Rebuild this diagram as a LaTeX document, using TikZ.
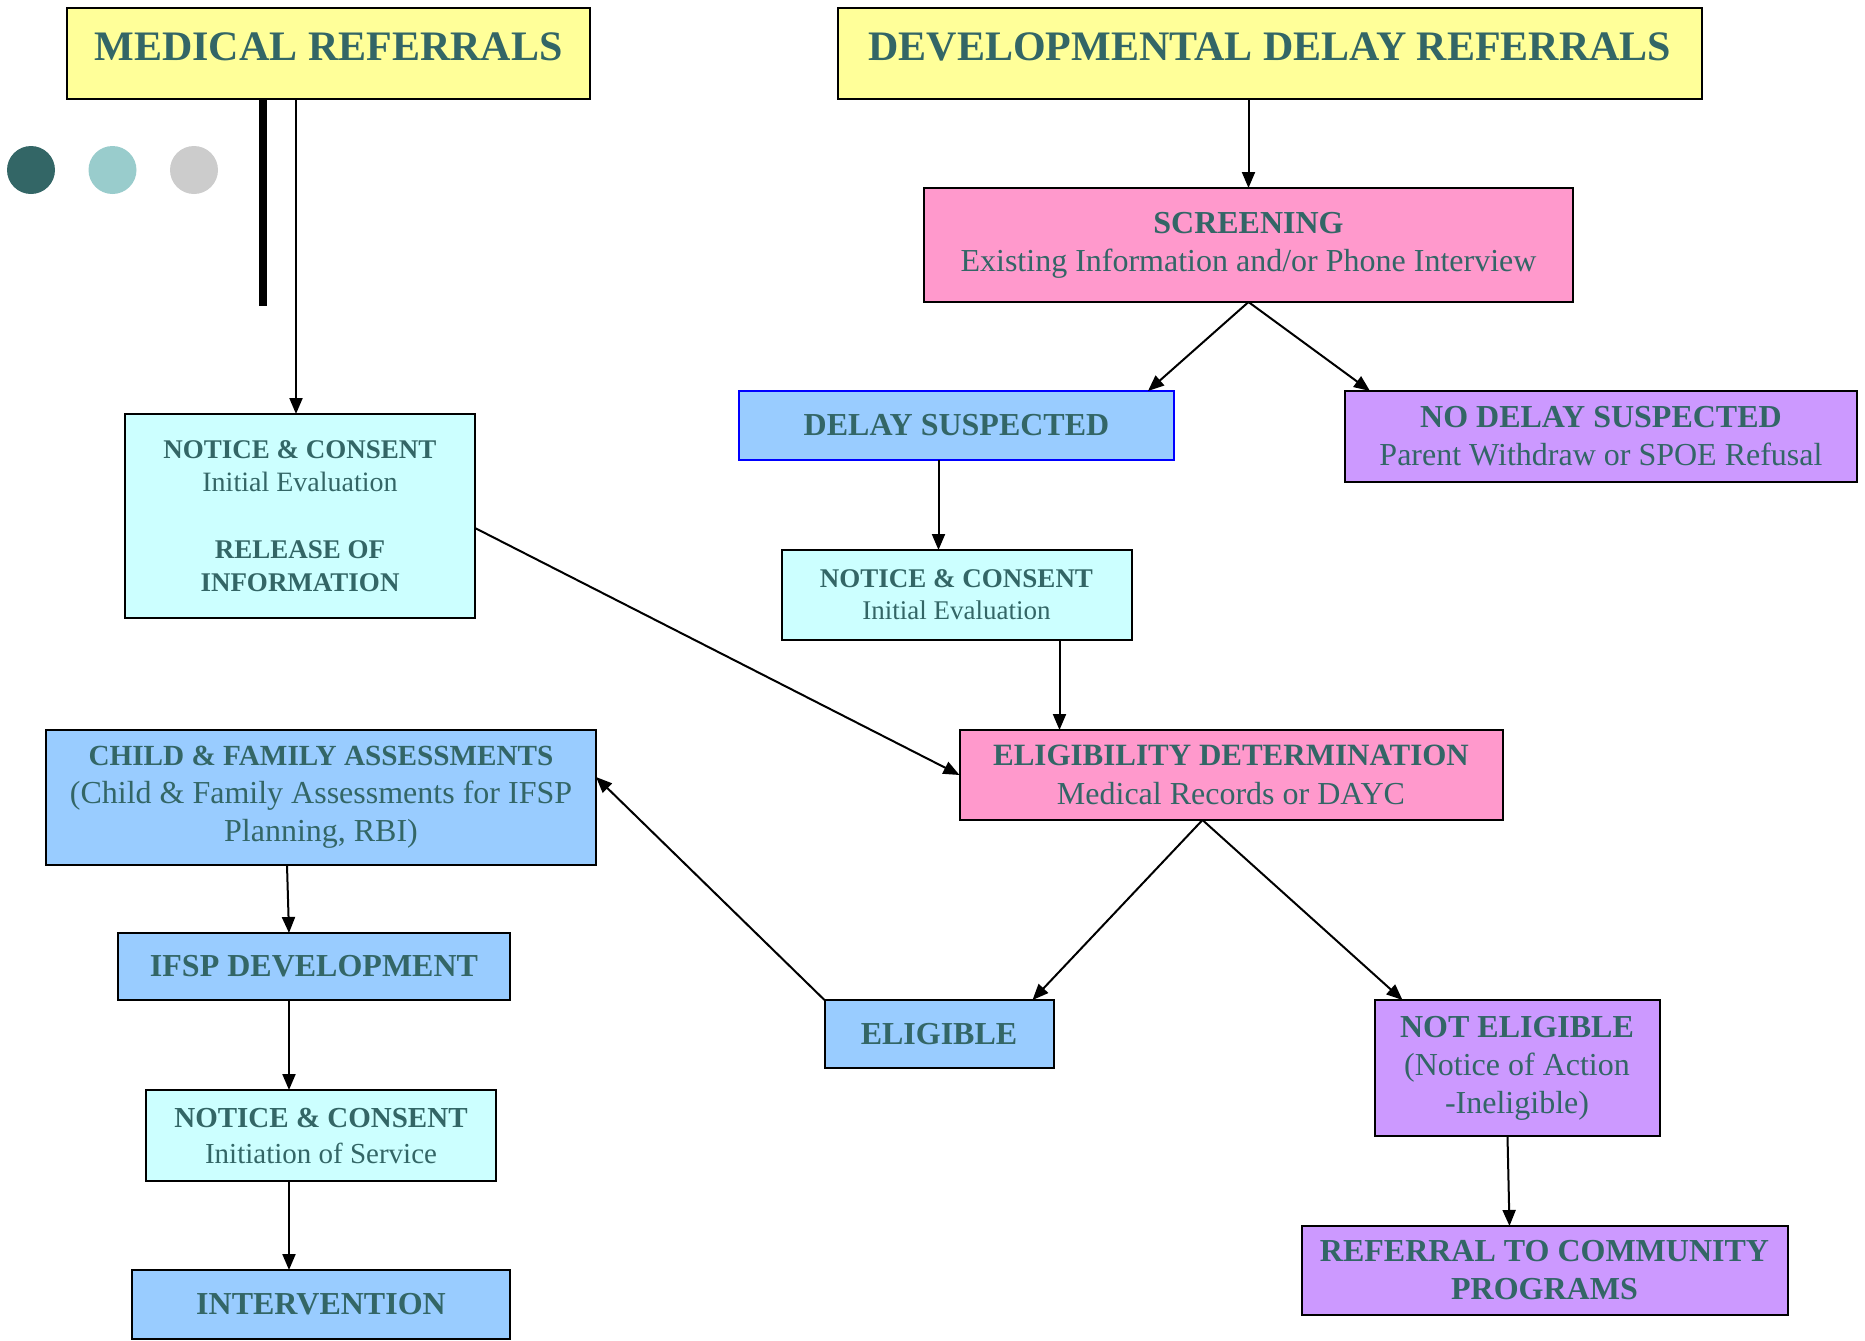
\documentclass[tikz,border=0pt]{standalone}
\usepackage{fontspec}
\setmainfont{Liberation Serif}
\usetikzlibrary{arrows.meta, positioning}

\definecolor{txtteal}{HTML}{336666}
\definecolor{boxyellow}{HTML}{FFFF99}
\definecolor{boxpink}{HTML}{FF99CC}
\definecolor{boxblue}{HTML}{99CCFF}
\definecolor{boxcyan}{HTML}{CCFFFF}
\definecolor{boxpurple}{HTML}{CC99FF}
\definecolor{dotdark}{HTML}{336666}
\definecolor{dotlight}{HTML}{99CCCC}
\definecolor{dotgrey}{HTML}{CCCCCC}

\begin{document}
\begin{tikzpicture}[>={Triangle[length=8pt,width=6.5pt]}, line width=1pt,
	box/.style={draw, rectangle, line width=1pt, inner sep=0pt, outer sep=0pt, align=center, text=txtteal, font=\fontsize{16}{19}\selectfont},
	titlebox/.style={box, fill=boxyellow, text height=26pt, text depth=19.5pt, font=\fontsize{21}{25}\selectfont\bfseries}]
		
		\useasboundingbox (0,0) rectangle (932.5pt,-670pt);
		
		% Title boxes
		\node[titlebox, minimum width=261.5pt] (med) at (164.25pt,-26.75pt) {MEDICAL REFERRALS};
		\node[titlebox, minimum width=432pt, right=124pt of med] (ddr) {DEVELOPMENTAL DELAY REFERRALS};
		
		% Bullet dots and bar
		\foreach \c [count=\i] in {dotdark, dotlight, dotgrey}
			\fill[\c] ({15.5pt+(\i-1)*40.75pt}, -85pt) circle (12pt);
		\draw[line width=4pt] ([xshift=98pt]med.south west) -- ++(0,-103.5pt);
		
		% Screening branch
		\node[box, fill=boxpink, minimum width=324.5pt, minimum height=57pt, below=44.5pt of ddr, xshift=-10.75pt] (screen) {\textbf{SCREENING}\\Existing Information and/or Phone Interview};
		\node[box, fill=boxblue, draw=blue, minimum width=217.5pt, minimum height=34.5pt, below=44.5pt of screen, xshift=-146pt] (delay) {\textbf{DELAY SUSPECTED}};
		\node[box, fill=boxpurple, minimum width=256pt, minimum height=45.5pt, below=44.5pt of screen, xshift=176.25pt] (nodelay) {\textbf{NO DELAY SUSPECTED}\\Parent Withdraw or SPOE Refusal};
		\node[box, fill=boxcyan, minimum width=175pt, minimum height=45pt, below=45pt of delay, font=\fontsize{13.5}{16}\selectfont] (consent2) {\textbf{NOTICE \& CONSENT}\\Initial Evaluation};
		
		% Eligibility
		\node[box, fill=boxpink, minimum width=271.5pt, minimum height=45pt, below=45pt of consent2, xshift=137.25pt, font=\fontsize{16}{19.5}\selectfont] (elig) {{\fontsize{15.5}{19.5}\selectfont\bfseries ELIGIBILITY DETERMINATION}\\Medical Records or DAYC};
		\node[box, fill=boxblue, minimum width=114.5pt, minimum height=34pt, below=90pt of elig, xshift=-146pt] (eligible) {\textbf{ELIGIBLE}};
		\node[box, fill=boxpurple, minimum width=142.5pt, minimum height=68pt, below=90pt of elig, xshift=143pt] (noteleg) {\textbf{NOT ELIGIBLE}\\(Notice of Action\\-Ineligible)};
		\node[box, fill=boxpurple, minimum width=243pt, minimum height=44.5pt, below=45pt of noteleg, xshift=13.75pt] (community) {\textbf{REFERRAL TO COMMUNITY}\\\textbf{PROGRAMS}};
		
		% Medical branch
		\node[box, fill=boxcyan, minimum width=175pt, minimum height=102pt, below=157.5pt of med, xshift=-14.25pt, font=\fontsize{13.5}{16.5}\selectfont] (consent1) {\textbf{NOTICE \& CONSENT}\\{\fontsize{14}{16.5}\selectfont Initial Evaluation}\\[17pt]\textbf{RELEASE OF}\\\textbf{INFORMATION}};
		\node[box, fill=boxblue, minimum width=275pt, minimum height=67.5pt, below=56pt of consent1, xshift=10.5pt] (assess) {{\fontsize{14.6}{19}\selectfont\bfseries CHILD \& FAMILY ASSESSMENTS}\\(Child \& Family Assessments for IFSP\\Planning, RBI)};
		\node[box, fill=boxblue, minimum width=196pt, minimum height=33.5pt, below=34pt of assess, xshift=-3.5pt] (ifsp) {\textbf{IFSP DEVELOPMENT}};
		\node[box, fill=boxcyan, minimum width=175pt, minimum height=45.5pt, below=45pt of ifsp, xshift=3.5pt, font=\fontsize{14.5}{18}\selectfont] (consent3) {\textbf{NOTICE \& CONSENT}\\Initiation of Service};
		\node[box, fill=boxblue, minimum width=189pt, minimum height=34.5pt, below=44.5pt of consent3] (interv) {\textbf{INTERVENTION}};
		
		% Connections
		\coordinate (in1) at ([xshift=-2pt]consent1.north);
		\draw[->] (in1 |- med.south) -- (in1);
		\draw[->] (ddr.south -| screen.north) -- (screen.north);
		\draw[->] (screen.south) -- ([xshift=-13pt]delay.north east);
		\draw[->] (screen.south) -- ([xshift=12.5pt]nodelay.north west);
		\coordinate (in2) at ([xshift=-9pt]consent2.north);
		\draw[->] (in2 |- delay.south) -- (in2);
		\coordinate (in3) at ([xshift=50pt]elig.north west);
		\draw[->] (in3 |- consent2.south) -- (in3);
		\draw[->] ([yshift=-6pt]consent1.east) -- (elig.west);
		\coordinate (out4) at ([xshift=-14.25pt]elig.south);
		\draw[->] (out4) -- ([xshift=-10.5pt]eligible.north east);
		\draw[->] (out4) -- ([xshift=14pt]noteleg.north west);
		\draw[->] (eligible.north west) -- ([yshift=10.25pt]assess.east);
		\draw[->] ([xshift=-17pt]assess.south) -- ([xshift=-12.5pt]ifsp.north);
		\coordinate (in5) at ([xshift=-16pt]consent3.north);
		\draw[->] (in5 |- ifsp.south) -- (in5);
		\coordinate (in6) at ([xshift=-16pt]interv.north);
		\draw[->] (in6 |- consent3.south) -- (in6);
		\draw[->] ([xshift=-4.75pt]noteleg.south) -- ([xshift=-17.5pt]community.north);
		
	\end{tikzpicture}
\end{document}
